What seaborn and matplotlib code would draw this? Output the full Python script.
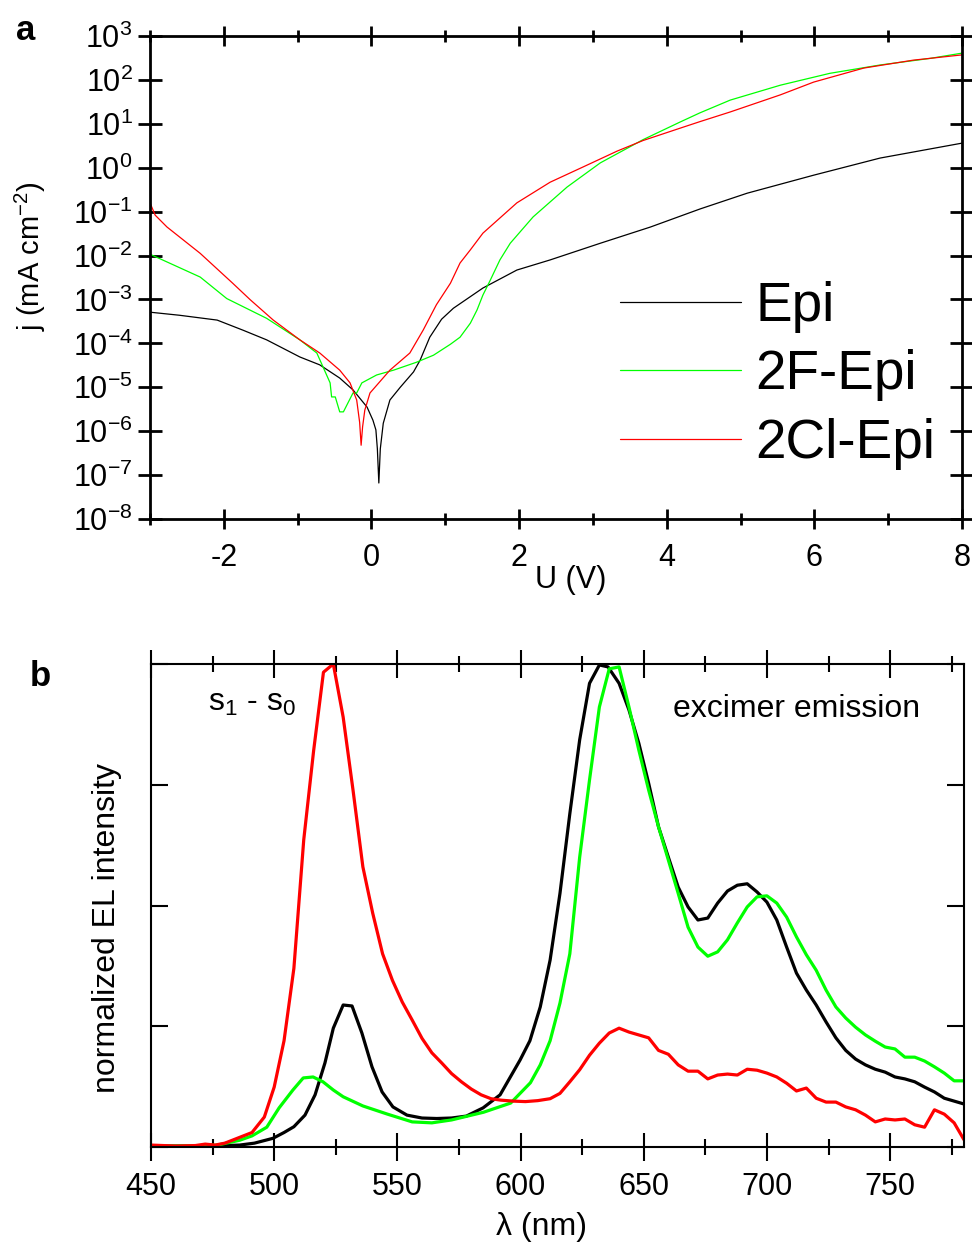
import numpy as np
import pandas as pd
import matplotlib
matplotlib.use("Agg")
import matplotlib.pyplot as plt
from matplotlib.ticker import MultipleLocator, LogLocator, NullLocator, NullFormatter
import seaborn as sns

# ── panel a: j-U curves (values read as log10 j) ─────────────────────────────
epi_u = [-3.0, -2.6, -2.09, -1.74, -1.42, -0.97, -0.70, -0.43, -0.25, -0.06, 0.02,
         0.06, 0.08, 0.10, 0.12, 0.16, 0.25, 0.39, 0.57, 0.66, 0.79, 0.95, 1.11,
         1.51, 1.97, 2.42, 3.10, 3.78, 4.45, 5.09, 5.99, 6.89, 8.0]
epi_logj = [-3.29, -3.36, -3.47, -3.70, -3.92, -4.31, -4.49, -4.79, -5.06, -5.45, -5.75,
            -5.97, -6.40, -7.18, -6.40, -5.82, -5.29, -5.00, -4.65, -4.38, -3.86, -3.45, -3.20,
            -2.74, -2.33, -2.10, -1.72, -1.35, -0.94, -0.58, -0.17, 0.22, 0.56]

f2_u = [-3.0, -2.32, -1.96, -1.42, -0.97, -0.74, -0.56, -0.54, -0.49, -0.43, -0.38,
        -0.25, -0.20, -0.13, 0.07, 0.30, 0.61, 0.84, 1.07, 1.20, 1.34, 1.43, 1.51,
        1.61, 1.74, 1.88, 2.19, 2.65, 3.10, 3.68, 4.18, 4.45, 4.86, 5.54, 6.21,
        6.89, 7.57, 8.0]
f2_logj = [-1.97, -2.49, -2.98, -3.43, -3.92, -4.22, -4.90, -5.22, -5.22, -5.56, -5.56,
           -5.13, -5.13, -4.90, -4.72, -4.61, -4.43, -4.27, -4.02, -3.86, -3.54, -3.24, -2.90,
           -2.56, -2.10, -1.72, -1.12, -0.44, 0.11, 0.64, 1.04, 1.25, 1.54, 1.88, 2.15,
           2.34, 2.49, 2.61]

cl2_u = [-3.0, -2.93, -2.77, -2.32, -1.88, -1.64, -1.33, -0.97, -0.70, -0.43, -0.29,
         -0.20, -0.16, -0.14, -0.12, -0.09, -0.02, 0.25, 0.52, 0.70, 0.88, 1.07, 1.20,
         1.34, 1.51, 1.97, 2.42, 2.87, 3.33, 3.68, 4.18, 4.45, 4.86, 5.54, 5.99,
         6.67, 7.34, 8.0]
cl2_logj = [-0.80, -1.08, -1.35, -1.95, -2.63, -3.01, -3.47, -3.92, -4.22, -4.61, -4.90,
            -5.29, -5.80, -6.32, -5.90, -5.52, -5.13, -4.61, -4.22, -3.70, -3.12, -2.63, -2.17,
            -1.87, -1.49, -0.80, -0.33, 0.02, 0.38, 0.62, 0.90, 1.05, 1.27, 1.66, 1.95,
            2.27, 2.45, 2.57]

# ── panel b: normalized EL spectra ────────────────────────────────────────────
epi_wl = [450, 460, 470, 480, 486, 492, 499.5, 504, 508, 512.5, 516.6, 520.6, 524, 528,
          531.6, 535.6, 539.7, 543.8, 548.2, 553.9, 560, 566, 572, 578, 584.8, 591.7,
          599.8, 603.8, 608, 612, 616, 620, 624, 628, 632, 635.5, 640, 644, 648, 652,
          656, 660, 664, 668, 672, 676, 680, 684, 688, 692, 696, 700, 704, 708, 712,
          716, 720, 724, 728, 732, 736, 740, 744, 748, 752, 756, 760, 764, 768, 772,
          776, 780]
epi_el = [0.002, 0.002, 0.002, 0.003, 0.004, 0.008, 0.018, 0.03, 0.042, 0.066, 0.108,
          0.174, 0.246, 0.294, 0.292, 0.236, 0.166, 0.114, 0.083, 0.066, 0.06, 0.059,
          0.06, 0.064, 0.081, 0.108, 0.18, 0.22, 0.29, 0.387, 0.525, 0.69, 0.843, 0.96,
          0.998, 0.994, 0.96, 0.905, 0.836, 0.753, 0.663, 0.60, 0.538, 0.497, 0.47,
          0.474, 0.505, 0.53, 0.542, 0.545, 0.528, 0.507, 0.47, 0.414, 0.36, 0.325,
          0.294, 0.259, 0.226, 0.20, 0.182, 0.17, 0.161, 0.155, 0.145, 0.141, 0.135,
          0.124, 0.114, 0.101, 0.095, 0.089]

f2_wl = [450, 460, 470, 477, 486, 491, 497, 502, 507.6, 511.8, 515.8, 519.8, 524, 528,
         536, 546, 556, 564, 572, 585, 596, 604, 608, 612, 616, 620, 624, 628, 632,
         636, 640, 644, 648, 652, 656, 660, 664, 668, 672, 676, 680, 684, 688, 692,
         696, 700, 704, 708, 712, 716, 720, 724, 728, 732, 736, 740, 744, 748, 752,
         756, 760, 764, 768, 772, 776, 780]
f2_el = [0.002, 0.002, 0.003, 0.004, 0.014, 0.023, 0.041, 0.081, 0.118, 0.143, 0.145,
         0.135, 0.118, 0.104, 0.085, 0.068, 0.052, 0.05, 0.056, 0.072, 0.091, 0.133,
         0.17, 0.22, 0.298, 0.40, 0.60, 0.76, 0.911, 0.99, 0.994, 0.911, 0.822, 0.739,
         0.663, 0.594, 0.525, 0.455, 0.414, 0.395, 0.404, 0.429, 0.464, 0.497, 0.518,
         0.52, 0.505, 0.476, 0.435, 0.398, 0.366, 0.325, 0.29, 0.267, 0.248, 0.232,
         0.219, 0.207, 0.203, 0.186, 0.186, 0.178, 0.166, 0.153, 0.137, 0.137]

cl2_wl = [450, 460, 468, 472, 476, 480, 486, 491, 496, 500, 504, 508, 512, 516, 520,
          524, 528, 532, 536, 540, 544, 548, 552, 556, 560, 564, 568, 572, 576, 580,
          584, 588, 592, 597, 602, 607, 612, 616, 620, 624, 628, 632, 636, 640, 644,
          648, 652, 656, 660, 664, 668, 672, 676, 680, 684, 688, 692, 696, 700, 704,
          708, 712, 716, 720, 724, 728, 732, 736, 740, 744, 748, 752, 756, 760, 764,
          768, 772, 776, 780]
cl2_el = [0.004, 0.002, 0.003, 0.006, 0.004, 0.008, 0.02, 0.03, 0.062, 0.124, 0.22,
          0.37, 0.636, 0.82, 0.983, 1.0, 0.89, 0.739, 0.58, 0.484, 0.40, 0.345, 0.30,
          0.263, 0.225, 0.195, 0.174, 0.152, 0.135, 0.12, 0.108, 0.10, 0.097, 0.095,
          0.094, 0.096, 0.10, 0.111, 0.135, 0.16, 0.19, 0.215, 0.236, 0.246, 0.238,
          0.232, 0.226, 0.20, 0.192, 0.17, 0.157, 0.157, 0.141, 0.149, 0.151, 0.149,
          0.161, 0.159, 0.153, 0.145, 0.132, 0.116, 0.122, 0.101, 0.093, 0.093, 0.083,
          0.077, 0.066, 0.052, 0.058, 0.056, 0.058, 0.046, 0.041, 0.077, 0.068, 0.05,
          0.015]

labels = ["Epi", "2F-Epi", "2Cl-Epi"]
colors = ["black", "#00ff00", "#ff0000"]

sns.set_theme(style="ticks")
plt.rcParams["font.family"] = ["Liberation Sans", "DejaVu Sans"]
plt.rcParams["mathtext.fontset"] = "custom"
plt.rcParams["mathtext.rm"] = "Liberation Sans"
plt.rcParams["mathtext.it"] = "Liberation Sans:italic"
plt.rcParams["mathtext.default"] = "regular"
plt.rcParams["axes.unicode_minus"] = False
for key in ["text.color", "axes.labelcolor", "xtick.color", "ytick.color", "axes.edgecolor"]:
    plt.rcParams[key] = "black"

W, H = 972, 1247
fig = plt.figure(figsize=(W / 100, H / 100), dpi=100)
ax_a = fig.add_axes([150 / W, 1 - 519 / H, 812 / W, 483 / H])
ax_b = fig.add_axes([151 / W, 1 - 1147 / H, 813 / W, 483 / H])

# ── a ─────────────────────────────────────────────────────────────────────────
series_a = [(epi_u, epi_logj), (f2_u, f2_logj), (cl2_u, cl2_logj)]
for (u, lj), lab, col in zip(series_a, labels, colors):
    df = pd.DataFrame({"U": u, "j": 10 ** np.array(lj)})
    sns.lineplot(data=df, x="U", y="j", color=col, lw=0.9, label=lab,
                 estimator=None, ax=ax_a)

ax_a.set_yscale("log")
ax_a.set_xlim(-3, 8)
ax_a.set_ylim(1e-8, 1e3)
ax_a.yaxis.set_major_locator(LogLocator(base=10, numticks=20))
ax_a.yaxis.set_minor_locator(NullLocator())
ax_a.yaxis.set_minor_formatter(NullFormatter())
ax_a.xaxis.set_major_locator(MultipleLocator(2))
ax_a.xaxis.set_minor_locator(MultipleLocator(1))
for sp in ax_a.spines.values():
    sp.set_linewidth(2.0)
    sp.set_visible(True)
# ticks on all four sides, crossing the frame
ax_a.tick_params(axis="both", which="both", labelsize=22, width=2.0,
                 top=True, right=True, labeltop=False, labelright=False)
ax_a.tick_params(axis="y", which="major", direction="inout", length=17, pad=4)
ax_a.tick_params(axis="x", which="major", direction="inout", length=14, pad=10)
ax_a.tick_params(axis="x", which="minor", direction="inout", length=9)

ax_a.set_xlabel("U (V)", fontsize=22)
ax_a.xaxis.set_label_coords(0.518, -0.096)
ax_a.set_ylabel("j (mA cm$^{-2}$)", fontsize=21)
ax_a.yaxis.set_label_coords(-0.125, 0.545)
ax_a.legend(loc="upper left", bbox_to_anchor=(620 / W, 1 - 281 / H),
            bbox_transform=fig.transFigure, frameon=False, fontsize=39.5,
            handlelength=2.2, handletextpad=0.27, labelspacing=0.3,
            borderpad=0, borderaxespad=0)

# ── b ─────────────────────────────────────────────────────────────────────────
series_b = [(epi_wl, epi_el), (f2_wl, f2_el), (cl2_wl, cl2_el)]
for (wl, el), lab, col in zip(series_b, labels, colors):
    df = pd.DataFrame({"wl": wl, "el": el})
    sns.lineplot(data=df, x="wl", y="el", color=col, lw=2.3, estimator=None,
                 legend=False, ax=ax_b)

ax_b.set_xlim(450, 780)
ax_b.set_ylim(0, 1.0)
ax_b.xaxis.set_major_locator(MultipleLocator(50))
ax_b.xaxis.set_minor_locator(MultipleLocator(25))
ax_b.yaxis.set_major_locator(MultipleLocator(0.25))
ax_b.set_yticklabels([])
for sp in ax_b.spines.values():
    sp.set_linewidth(1.5)
    sp.set_visible(True)
ax_b.tick_params(axis="both", which="both", labelsize=22, width=1.5,
                 top=True, right=True, left=True, labeltop=False, labelright=False)
ax_b.tick_params(axis="x", which="major", direction="inout", length=20, pad=8)
ax_b.tick_params(axis="x", which="minor", direction="inout", length=12)
ax_b.tick_params(axis="y", which="major", direction="in", length=12)

ax_b.set_xlabel("λ (nm)", fontsize=23)
ax_b.xaxis.set_label_coords(0.48, -0.135)
ax_b.set_ylabel("normalized EL intensity", fontsize=23)
ax_b.yaxis.set_label_coords(-0.036, 0.453)

ax_b.text(0.070, 0.903, "s$_1$ - s$_0$", transform=ax_b.transAxes, fontsize=23,
          va="baseline", ha="left")
ax_b.text(0.642, 0.89, "excimer emission", transform=ax_b.transAxes, fontsize=23,
          va="baseline", ha="left")

fig.text(16 / W, 1 - 40 / H, "a", fontsize=25, fontweight="bold", va="baseline")
fig.text(30 / W, 1 - 686 / H, "b", fontsize=25, fontweight="bold", va="baseline")

fig.savefig("out.png", dpi=100)
